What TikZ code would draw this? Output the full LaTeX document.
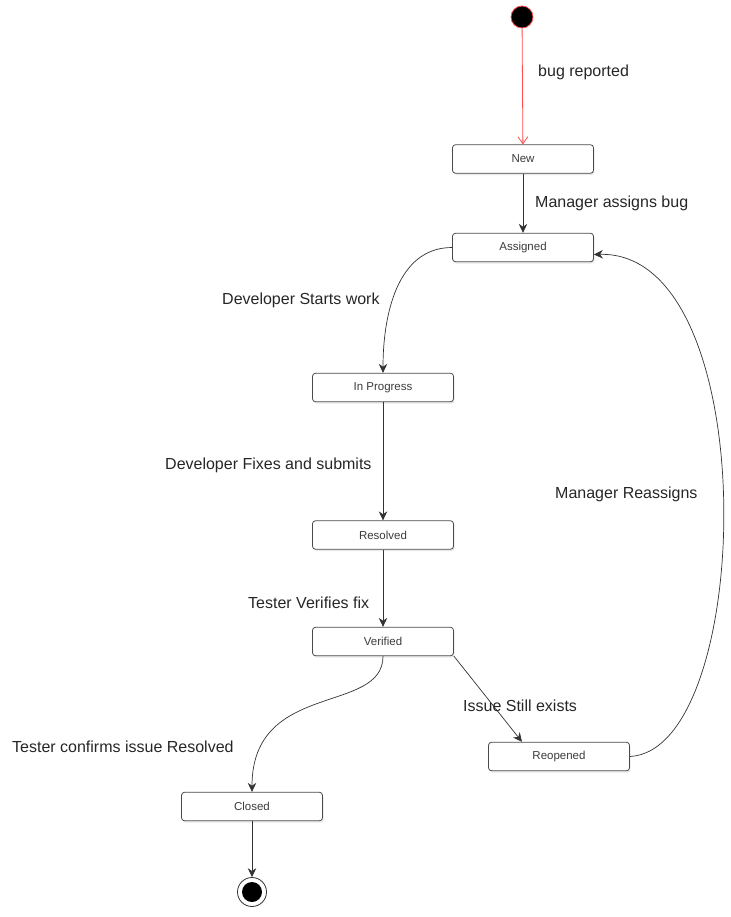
\documentclass[tikz,border=0pt]{standalone}
\usepackage{fontspec}
\setmainfont{Liberation Sans}
\usetikzlibrary{arrows.meta,shadows}
\definecolor{initred}{HTML}{FF4D4D}
\definecolor{boxline}{HTML}{4A4A4A}
\definecolor{labeltext}{HTML}{262626}
\tikzset{
  state/.style={draw=boxline, line width=0.8pt, fill=white, rounded corners=3pt,
    minimum width=141pt, minimum height=28.5pt, inner sep=0pt,
    font=\fontsize{11.5}{13}\selectfont, text=labeltext!90,
    drop shadow={opacity=0.18, shadow xshift=1.2pt, shadow yshift=-1.8pt}},
  translabel/.style={anchor=west, inner sep=0pt, text=labeltext,
    font=\fontsize{16}{18}\selectfont},
  trans/.style={-{Stealth[length=9pt,width=8.5pt]}, line width=0.7pt, draw=black!80},
}
\begin{document}
\begin{tikzpicture}[x=1pt,y=1pt]
		\useasboundingbox (0,0) rectangle (730,-917);
		% start and end points
		\node[circle, fill=black, draw=initred, line width=0.8pt, minimum size=22pt, inner sep=0pt] (init) at (522,-17) {};
		\node[circle, draw=black!80, fill=white, line width=0.8pt, minimum size=29pt, inner sep=0pt] (final) at (252,-892) {};
		\fill (final.center) circle (10pt);
		% states
		\node[state] (new) at (523,-159) {New};
		\node[state] (assigned) at (523,-247.5) {Assigned};
		\node[state] (progress) at (383,-387.5) {In Progress};
		\node[state] (resolved) at (383,-535) {Resolved};
		\node[state] (verified) at (383,-641.5) {Verified};
		\node[state] (reopened) at (559,-756.5) {Reopened};
		\node[state] (closed) at (252,-806.5) {Closed};
		% transitions
		\draw[-{Straight Barb[length=7pt,width=10pt]}, initred, line width=0.8pt] (init) -- (new);
		\draw[trans] (new) -- (assigned);
		\draw[trans] (assigned.west) to[out=180, in=90] (progress.north);
		\draw[trans] (progress) -- (resolved);
		\draw[trans] (resolved) -- (verified);
		\draw[trans] (verified.south) .. controls (383,-715) and (252,-680) .. (closed.north);
		\draw[trans] (verified.south east) -- ([xshift=-37pt]reopened.north);
		\draw[trans] (reopened.east) .. controls (755,-750) and (765,-250) .. ([yshift=-7pt]assigned.east);
		\draw[trans] (closed) -- (final);
		% labels
		\node[translabel] (lbug) at (538,-72) {bug reported};
		\node[translabel] (lassign) at (535,-203) {Manager assigns bug};
		\node[translabel] (lstart) at (222,-300) {Developer Starts work};
		\node[translabel] (lfix) at (165,-465) {Developer Fixes and submits};
		\node[translabel] (lreassign) at (555,-494) {Manager Reassigns};
		\node[translabel] (lverify) at (248,-603) {Tester Verifies fix};
		\node[translabel] (lexists) at (463,-706) {Issue Still exists};
		\node[translabel] (lconfirm) at (12,-747) {Tester confirms issue Resolved};
\end{tikzpicture}
\end{document}
